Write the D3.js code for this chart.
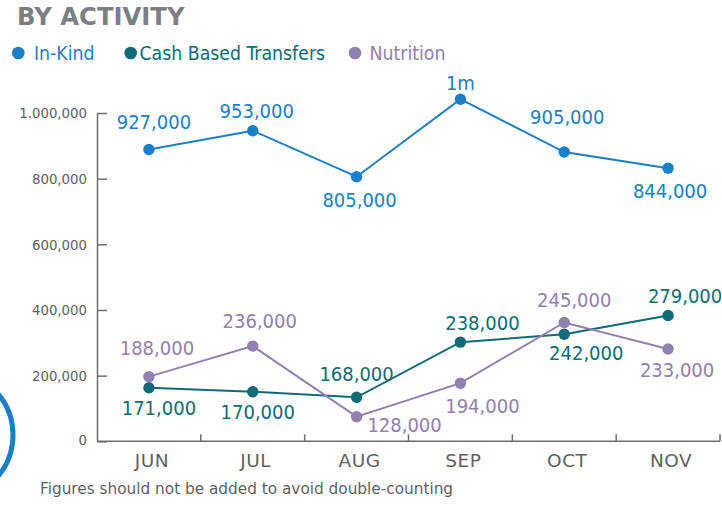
<!DOCTYPE html>
<html>
<head>
<meta charset="utf-8">
<script src="https://cdn.jsdelivr.net/npm/d3@7"></script>
<style>
  body { margin: 0; background: #fff; }
  svg text { font-family: "DejaVu Sans Condensed", "DejaVu Sans", sans-serif; font-stretch: condensed; }
  svg text.wide { font-family: "DejaVu Sans", sans-serif; font-stretch: normal; }
</style>
</head>
<body>
<div id="chart"></div>
<script>
// months on the x axis
var months = ["JUN", "JUL", "AUG", "SEP", "OCT", "NOV"];

// plotted values and the printed labels
var inKind = [889000, 946000, 806000, 1042000, 881000, 832000];
var inKindLabels = ["927,000", "953,000", "805,000", "1m", "905,000", "844,000"];

var cash = [163000, 151000, 134000, 302000, 326000, 383000];
var cashLabels = ["171,000", "170,000", "168,000", "238,000", "242,000", "279,000"];

var nutrition = [197000, 290000, 75000, 177000, 362000, 281000];
var nutritionLabels = ["188,000", "236,000", "128,000", "194,000", "245,000", "233,000"];

var yTicks = [0, 200000, 400000, 600000, 800000, 1000000];
var yTickLabels = ["0", "200,000", "400,000", "600,000", "800,000", "1.000,000"];

function init() {
    var w = 722, h = 505;

    var svg = d3.select("#chart").append("svg")
        .attr("width", w)
        .attr("height", h);

    // scales
    var x = d3.scaleBand().domain(months).range([97, 720]).paddingInner(0).paddingOuter(0);
    var y = d3.scaleLinear().domain([0, 1000000]).range([441.3, 113]);
    var cx = function (i) { return x(months[i]) + x.bandwidth() / 2; };

    var axisColor = "#6e6e6e";

    // decorative ring at bottom left
    svg.append("circle")
        .attr("cx", -51).attr("cy", 435).attr("r", 64)
        .attr("fill", "none").attr("stroke", "#1a7fc6").attr("stroke-width", 5);

    // title
    svg.append("text")
        .attr("class", "wide")
        .attr("x", 17).attr("y", 25)
        .attr("font-size", 24.3).attr("font-weight", "bold")
        .attr("fill", "#7b7f82")
        .text("BY ACTIVITY");

    var series = [
        { name: "In-Kind", values: inKind, labels: inKindLabels, color: "#1a7fc6",
          off: [[5, -20], [4, -13], [3, 30], [0, -9], [3, -28], [2, 30]], lx: 18.3, tx: 34 },
        { name: "Cash Based Transfers", values: cash, labels: cashLabels, color: "#0f6b77",
          off: [[10, 27], [5, 27], [0, -16], [22, -12], [22, 26], [17, -13]], lx: 130.7, tx: 139.5 },
        { name: "Nutrition", values: nutrition, labels: nutritionLabels, color: "#9280b0",
          off: [[8, -22], [7, -18], [48, 15], [22, 30], [10, -15], [9, 28]], lx: 355, tx: 369.5 }
    ];

    // legend
    series.forEach(function (s) {
        svg.append("circle").attr("cx", s.lx).attr("cy", 53).attr("r", 6.3).attr("fill", s.color);
        svg.append("text").attr("x", s.tx).attr("y", 60)
            .attr("font-size", 19.3).attr("fill", s.color).text(s.name);
    });

    // y axis
    var yAxis = d3.axisLeft(y)
        .tickValues(yTicks)
        .tickSize(-10)
        .tickSizeOuter(0)
        .tickPadding(10)
        .tickFormat(function (d, i) { return yTickLabels[i]; });

    var gy = svg.append("g").attr("transform", "translate(97,0)").call(yAxis);
    gy.select(".domain").attr("stroke", axisColor).attr("stroke-width", 1.5);
    gy.selectAll(".tick line").attr("stroke", axisColor).attr("stroke-width", 1.5);
    gy.selectAll(".tick text").attr("fill", "#5f5f5f").attr("font-size", 14.8)
        .attr("font-family", null);
    gy.select(".tick text").attr("dy", "0.2em"); // the 0 label sits a little lower

    // x axis baseline and separators
    var gx = svg.append("g");
    gx.append("line")
        .attr("x1", x.range()[0]).attr("x2", x.range()[1])
        .attr("y1", y(0)).attr("y2", y(0))
        .attr("stroke", axisColor).attr("stroke-width", 1.5);
    var sep = months.slice(1).map(function (m) { return x(m); }).concat([x.range()[1]]);
    gx.selectAll("line.sep").data(sep).enter().append("line")
        .attr("class", "sep")
        .attr("x1", function (d) { return d; }).attr("x2", function (d) { return d; })
        .attr("y1", y(0)).attr("y2", y(0) - 7)
        .attr("stroke", axisColor).attr("stroke-width", 1.5);
    gx.selectAll("text").data(months).enter().append("text")
        .attr("class", "wide")
        .attr("x", function (d, i) { return cx(i) + 3; })
        .attr("y", 467)
        .attr("text-anchor", "middle")
        .attr("font-size", 18.5)
        .attr("letter-spacing", 0.5)
        .attr("fill", "#5f5f5f")
        .text(function (d) { return d; });

    // lines, points, labels
    var line = d3.line()
        .x(function (d, i) { return cx(i); })
        .y(function (d) { return y(d); });

    series.forEach(function (s) {
        var g = svg.append("g");
        g.append("path").datum(s.values)
            .attr("d", line)
            .attr("fill", "none")
            .attr("stroke", s.color)
            .attr("stroke-width", 2);
        g.selectAll("circle").data(s.values).enter().append("circle")
            .attr("cx", function (d, i) { return cx(i); })
            .attr("cy", function (d) { return y(d); })
            .attr("r", 5.7)
            .attr("fill", s.color);
        g.selectAll("text").data(s.values).enter().append("text")
            .attr("x", function (d, i) { return cx(i) + s.off[i][0]; })
            .attr("y", function (d, i) { return y(d) + s.off[i][1]; })
            .attr("text-anchor", "middle")
            .attr("font-size", 20)
            .attr("fill", s.color)
            .text(function (d, i) { return s.labels[i]; });
    });

    // footnote
    svg.append("text")
        .attr("class", "wide")
        .attr("x", 40).attr("y", 494)
        .attr("font-size", 15.3)
        .attr("fill", "#5f5f5f")
        .text("Figures should not be added to avoid double-counting");
}

window.onload = init;
</script>
</body>
</html>
